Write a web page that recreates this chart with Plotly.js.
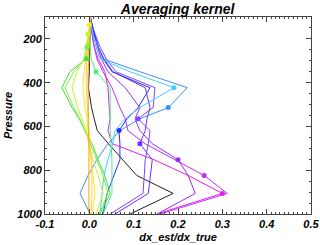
<!DOCTYPE html>
<html><head><meta charset="utf-8">
<script src="https://cdn.plot.ly/plotly-3.0.1.min.js"></script>
<style>html,body{margin:0;padding:0;background:#fff}#chart{width:320px;height:245px}</style>
</head><body><div id="chart"></div>
<script>
// Pressure levels (hPa)
const pressure = [100,136,177,236,291,350,423,514,565,619,679,752,824,906,1000];

// Averaging kernel rows (dx_est/dx_true) at each pressure level
const kBlack       = [0.002,0.002,0.002,0.001,0.000,0.000,-0.002,0.005,0.011,0.018,0.043,0.075,0.107,0.189,0.092];
const kMagenta     = [0.002,0.004,0.006,0.011,0.020,0.035,0.042,0.045,0.047,0.042,0.052,0.146,0.223,0.300,0.152];
const kOrchid      = [0.002,0.004,0.006,0.011,0.017,0.031,0.051,0.069,0.081,0.087,0.126,0.193,0.259,0.311,0.160];
const kPurple      = [0.002,0.006,0.011,0.018,0.027,0.042,0.081,0.114,0.103,0.114,0.142,0.200,0.223,0.239,0.153];
const kVioletBlue  = [0.002,0.006,0.011,0.020,0.033,0.053,0.126,0.137,0.130,0.126,0.114,0.142,0.137,0.133,0.058];
const kViolet      = [0.002,0.006,0.013,0.024,0.038,0.060,0.148,0.144,0.110,0.137,0.133,0.126,0.124,0.121,0.047];
const kBlue        = [0.002,0.006,0.011,0.020,0.031,0.051,0.137,0.110,0.085,0.067,0.069,0.069,0.056,0.040,0.031];
const kDodger      = [0.002,0.004,0.008,0.020,0.031,0.114,0.221,0.178,0.114,0.069,0.042,0.017,-0.003,-0.021,0.002];
const kCyan        = [0.002,0.004,0.008,0.015,0.024,0.092,0.191,0.114,0.081,0.058,0.053,0.042,0.033,0.029,0.024];
const kMint        = [0.002,0.002,0.002,0.002,0.004,0.015,0.047,0.047,0.047,0.047,0.049,0.051,0.051,0.051,0.031];
const kGreen       = [0.002,0.002,0.002,-0.001,-0.007,-0.044,-0.062,-0.039,-0.023,-0.010,0.006,0.020,0.035,0.047,0.024];
const kLime        = [0.002,0.002,-0.001,-0.005,-0.010,-0.035,-0.055,-0.035,-0.021,-0.010,0.002,0.015,0.031,0.042,0.022];
const kYellowGreen = [0.002,0.002,-0.003,-0.007,-0.012,-0.028,-0.039,-0.026,-0.016,-0.007,-0.001,0.008,0.020,0.031,0.015];
const kYellow      = [0.002,0.000,-0.001,-0.003,-0.007,-0.012,-0.014,-0.010,-0.005,-0.003,-0.001,0.004,0.008,0.013,0.006];
const kGold        = [0.002,0.002,-0.001,-0.003,-0.005,-0.007,-0.007,-0.005,-0.003,-0.001,0.002,0.004,0.006,0.006,0.004];
const kOrange      = [0.002,0.002,0.002,-0.001,-0.001,-0.003,-0.003,-0.003,-0.003,-0.002,-0.001,-0.001,-0.001,-0.001,-0.001];

// Level index of each row's own retrieval level (marked with a dot), null = none
const rowLevel = [null,13,12,11,10,8,9,7,6,5,4,3,2,1,null,null];

// Tick labels
const xTickVals = [-0.1,0.0,0.1,0.2,0.3,0.4,0.5];
const xTickText = ['-0.1','0.0','0.1','0.2','0.3','0.4','0.5'];
const yTickVals = [200,400,600,800,1000];
const yTickText = ['200','400','600','800','1000'];

const rows = [kBlack,kMagenta,kOrchid,kPurple,kVioletBlue,kViolet,kBlue,kDodger,kCyan,kMint,kGreen,kLime,kYellowGreen,kYellow,kGold,kOrange];
const colors = ['#222222','#e81ee8','#c02cf4','#9a2cff','#6a30ff','#7a46ff','#2a2aff','#3d8cff','#44ccff','#48ee8a','#3ee03e','#7cf233','#c4f52e','#f5ec10','#ffc860','#ffa800'];

const traces = rows.map((r,i)=>({
  x: r, y: pressure, type:'scatter', mode:'lines',
  line:{color:colors[i], width:1}, hoverinfo:'skip', showlegend:false
}));
const dx=[], dy=[], dc=[];
rows.forEach((r,i)=>{ const k=rowLevel[i]; if(k!==null){ dx.push(r[k]); dy.push(pressure[k]); dc.push(colors[i]); } });
traces.push({x:dx, y:dy, type:'scatter', mode:'markers', marker:{color:dc, size:5}, showlegend:false, hoverinfo:'skip'});

const font = {family:'"Liberation Sans", Arial, sans-serif', color:'#000', weight:'bold', style:'italic'};
const layout = {
  width:320, height:245,
  margin:{l:45, r:9, t:17, b:31},
  paper_bgcolor:'#fff', plot_bgcolor:'#fff',
  title:{text:'Averaging kernel', x:0.555, xanchor:'center', y:0.983, yanchor:'top',
         font:Object.assign({}, font, {size:14})},
  xaxis:{range:[-0.1,0.5], tickvals:xTickVals, ticktext:xTickText,
         ticks:'inside', ticklen:5, tickcolor:'#444', showline:true, linecolor:'#444', linewidth:1, mirror:'ticks',
         showgrid:false, zeroline:false, tickfont:Object.assign({}, font, {size:11}),
         minor:{dtick:0.01, tick0:0, ticks:'inside', ticklen:2, tickcolor:'#444', showgrid:false},
         title:{text:'dx_est/dx_true', standoff:4, font:Object.assign({}, font, {size:11})}},
  yaxis:{range:[1000,100], tickvals:yTickVals, ticktext:yTickText,
         ticks:'inside', ticklen:5, tickcolor:'#444', showline:true, linecolor:'#444', linewidth:1, mirror:'ticks',
         showgrid:false, zeroline:false, tickfont:Object.assign({}, font, {size:11}),
         minor:{dtick:50, tick0:0, ticks:'inside', ticklen:2, tickcolor:'#444', showgrid:false},
         title:{text:'Pressure', standoff:2, font:Object.assign({}, font, {size:11})}}
};
Plotly.newPlot('chart', traces, layout, {staticPlot:true, displayModeBar:false});
</script></body></html>
